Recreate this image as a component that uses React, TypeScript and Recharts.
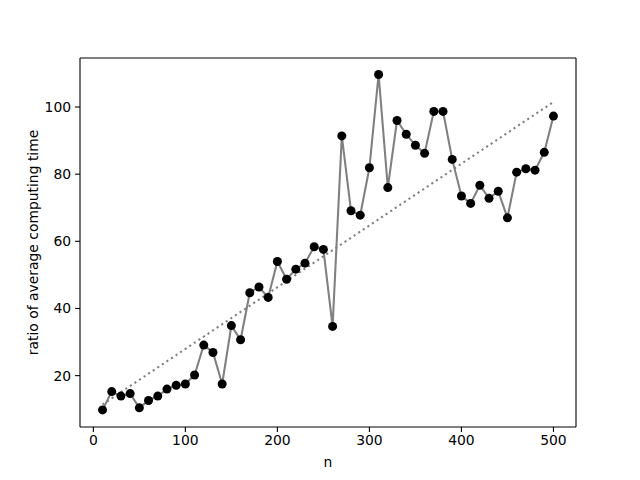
import React from 'react';
import { LineChart, Line, XAxis, YAxis, ReferenceLine } from 'recharts';

const nValues = [10,20,30,40,50,60,70,80,90,100,110,120,130,140,150,160,170,180,190,200,210,220,230,240,250,260,270,280,290,300,310,320,330,340,350,360,370,380,390,400,410,420,430,440,450,460,470,480,490,500];
const ratios = [9.8,15.25,13.9,14.65,10.4,12.6,13.9,16.0,17.1,17.5,20.2,29.1,26.9,17.5,34.9,30.7,44.7,46.4,43.3,54.0,48.7,51.7,53.5,58.4,57.6,34.65,91.4,69.1,67.8,81.9,109.7,76.0,96.0,91.9,88.6,86.2,98.7,98.7,84.4,73.5,71.3,76.7,72.8,74.9,67.0,80.6,81.6,81.2,86.5,97.3];
const fitN = [10, 500];
const fitValues = [11.4, 101.5];
const xTicks = [0, 100, 200, 300, 400, 500];
const yTicks = [20, 40, 60, 80, 100];
const xDomain: [number, number] = [-14.5, 524.5];
const yDomain: [number, number] = [4.7, 114.6];

const data = nValues.map((n, i) => ({ n, ratio: ratios[i] }));
const fitData = fitN.map((n, i) => ({ n, fit: fitValues[i] }));

const font = 'DejaVu Sans, sans-serif';
const tickStyle = { fontSize: 13.9, fill: '#000', fontFamily: font };

export default function App() {
  return (
    <div style={{ position: 'absolute', left: 0, top: 0, width: 640, height: 480, background: '#fff' }}>
      <LineChart width={640} height={480} margin={{ top: 58, right: 64, bottom: 0, left: 0 }}>
        <XAxis
          dataKey="n"
          type="number"
          domain={xDomain}
          ticks={xTicks}
          allowDataOverflow
          height={53}
          tickSize={4.9}
          tickMargin={3}
          tick={tickStyle}
          stroke="#000"
          axisLine={{ stroke: '#000', strokeWidth: 1.1 }}
          tickLine={{ stroke: '#000', strokeWidth: 1.1 }}
          label={{ value: 'n', position: 'insideBottom', offset: 13, style: { fontSize: 13.9, fill: '#000', fontFamily: font } }}
        />
        <YAxis
          type="number"
          domain={yDomain}
          ticks={yTicks}
          allowDataOverflow
          width={80}
          tickSize={4.9}
          tickMargin={4}
          tick={tickStyle}
          axisLine={{ stroke: '#000', strokeWidth: 1.1 }}
          tickLine={{ stroke: '#000', strokeWidth: 1.1 }}
          label={{ value: 'ratio of average computing time', angle: -90, position: 'insideLeft', offset: 33, style: { fontSize: 13.9, fill: '#000', fontFamily: font, textAnchor: 'middle' } }}
        />
        <ReferenceLine x={xDomain[1]} stroke="#000" strokeWidth={1.1} />
        <ReferenceLine y={yDomain[1]} stroke="#000" strokeWidth={1.1} />
        <Line
          data={fitData}
          dataKey="fit"
          type="linear"
          stroke="#808080"
          strokeWidth={2.08}
          strokeDasharray="2.1 3.4"
          dot={false}
          activeDot={false}
          isAnimationActive={false}
        />
        <Line
          data={data}
          dataKey="ratio"
          type="linear"
          stroke="#808080"
          strokeWidth={2.08}
          dot={{ r: 4.5, fill: '#000', stroke: '#000', strokeWidth: 0 }}
          activeDot={false}
          isAnimationActive={false}
        />
      </LineChart>
    </div>
  );
}
